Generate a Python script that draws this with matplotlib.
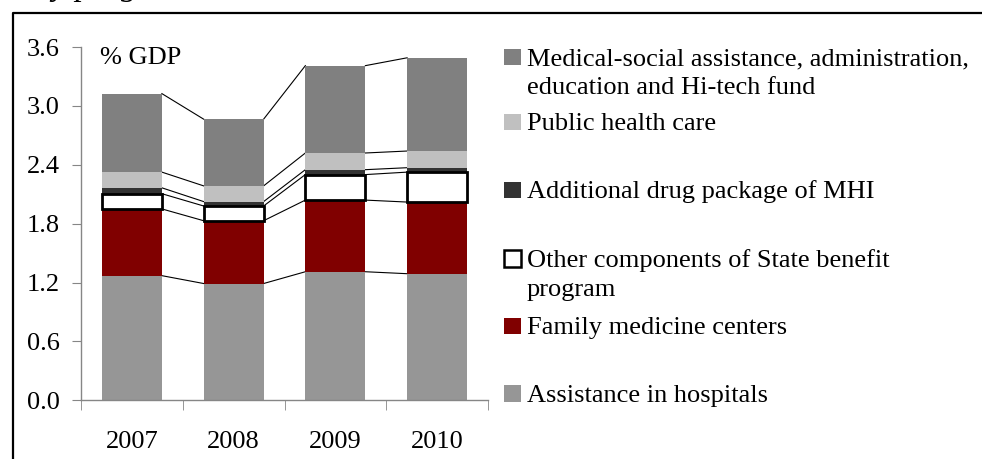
import matplotlib
matplotlib.use('Agg')
import matplotlib.pyplot as plt
from matplotlib.patches import Rectangle
from matplotlib.lines import Line2D
import numpy as np

plt.rcParams['font.family'] = ['Liberation Serif', 'DejaVu Serif']

# data (% of GDP)
years = ['2007', '2008', '2009', '2010']
hospitals = [1.27, 1.19, 1.31, 1.29]
family = [0.68, 0.64, 0.73, 0.73]
other_sbp = [0.155, 0.15, 0.26, 0.305]
drug = [0.06, 0.045, 0.05, 0.045]
public = [0.16, 0.16, 0.17, 0.17]
medsoc = [0.80, 0.68, 0.89, 0.95]

series = [hospitals, family, other_sbp, drug, public, medsoc]
colors = ['#969696', '#800000', 'white', '#333333', '#C0C0C0', '#808080']
labels = ['Assistance in hospitals', 'Family medicine centers',
          'Other components of State benefit\nprogram',
          'Additional drug package of MHI', 'Public health care',
          'Medical-social assistance, administration,\neducation and Hi-tech fund']

W, H = 982, 459
FS = 19
fig = plt.figure(figsize=(W / 100, H / 100), dpi=100)


def px(x, y):
    return x / W, 1 - y / H


ax = fig.add_axes([81 / W, 1 - 400.3 / H, 407 / W, 353.3 / H])
x = np.arange(len(years))
bw = 0.59
bottom = np.zeros(len(years))
tops = []
for vals, c in zip(series, colors):
    vals = np.array(vals)
    if c == 'white':
        ax.bar(x, vals, bw, bottom=bottom, color='white', edgecolor='black',
               linewidth=2, zorder=3)
    else:
        ax.bar(x, vals, bw, bottom=bottom, color=c, linewidth=0, zorder=2)
    bottom = bottom + vals
    tops.append(bottom.copy())

# series lines between bars
for t in tops:
    for i in range(len(years) - 1):
        ax.plot([x[i] + bw / 2, x[i + 1] - bw / 2], [t[i], t[i + 1]],
                color='black', lw=0.8, zorder=1)

ticks = np.arange(0, 3.61, 0.6)
ax.set_xlim(-0.5, 3.5)
ax.set_ylim(0, 3.6)
ax.set_yticks(ticks)
ax.set_yticklabels([f'{v:.1f}' for v in ticks])
ax.set_xticks(x)
ax.set_xticklabels(years)
ax.set_xticks(np.arange(-0.5, 3.6, 1), minor=True)
ax.tick_params(axis='x', which='major', length=0, pad=22, labelsize=FS)
ax.tick_params(axis='x', which='minor', length=7, color='#868686', direction='out')
ax.tick_params(axis='y', length=6.5, color='#868686', pad=9, labelsize=FS)
for s in ['top', 'right']:
    ax.spines[s].set_visible(False)
for s in ['left', 'bottom']:
    ax.spines[s].set_color('#868686')
    ax.spines[s].set_linewidth(1)

fig.text(*px(100, 58), '% GDP', fontsize=FS, va='center')

# legend, drawn by hand to keep Excel spacing; baselines of each entry
baselines = [401.7, 334.3, 266.7, 198.3, 130.0, 65.0]
line_gap = 29.5
for lab, c, by in zip(labels, colors, baselines):
    ec = 'black' if c == 'white' else 'none'
    lw = 1.8 if c == 'white' else 0
    fx, fy = px(504, by)
    fig.patches.append(Rectangle((fx, fy), 16.5 / W, 16.5 / H, facecolor=c,
                                 edgecolor=ec, linewidth=lw,
                                 transform=fig.transFigure, figure=fig))
    for k, line in enumerate(lab.split('\n')):
        fig.text(*px(527, by + k * line_gap), line, fontsize=FS, va='baseline')

# outer frame (only top and left are in view)
fig.lines.append(Line2D([13 / W, 13 / W, 1], [0, 1 - 12.5 / H, 1 - 12.5 / H],
                        color='black', lw=1.6, transform=fig.transFigure))
# cropped caption above the frame, only its descenders show
fig.text(19 / W, 1 + 5 / H, ', by program', fontsize=24, style='italic',
         va='baseline')

fig.savefig('out.png', dpi=100)
